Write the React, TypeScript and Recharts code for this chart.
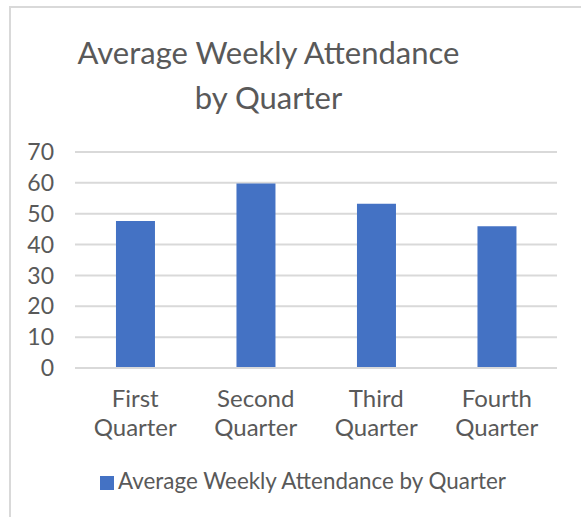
import React from "react";
import { BarChart, Bar, XAxis, YAxis, CartesianGrid, Legend } from "recharts";

const BAR_COLOR = "#4472C4";
const TEXT_COLOR = "#595959";
const GRID_COLOR = "#D9D9D9";
const FONT = "Lato, 'Open Sans', sans-serif";

const quarters: string[] = ["First Quarter", "Second Quarter", "Third Quarter", "Fourth Quarter"];
const attendance: number[] = [47.6, 59.8, 53.2, 45.9];
const yTicks: number[] = [0, 10, 20, 30, 40, 50, 60, 70];
const seriesName = "Average Weekly Attendance by Quarter";
const titleLines: string[] = ["Average Weekly Attendance", "by Quarter"];

const data = quarters.map((name, i) => ({ name, value: attendance[i] }));

const QuarterTick: React.FC<any> = ({ x, y, payload }) => {
  const words = String(payload.value).split(" ");
  return (
    <text
      x={x}
      y={y}
      textAnchor="middle"
      fill={TEXT_COLOR}
      fontSize={24}
      fontFamily={FONT}
    >
      {words.map((w, i) => (
        <tspan key={i} x={x} dy={i === 0 ? 31 : 29}>
          {w}
        </tspan>
      ))}
    </text>
  );
};

const App = () => {
  return (
    <div style={{ position: "absolute", left: 0, top: 0, width: 581, height: 517, background: "#fff", overflow: "hidden" }}>
      <div
        style={{
          position: "absolute",
          left: 9,
          top: 6,
          width: 600,
          height: 600,
          borderTop: `2px solid ${GRID_COLOR}`,
          borderLeft: `2px solid ${GRID_COLOR}`,
        }}
      />
      <div
        style={{
          position: "absolute",
          left: 0,
          width: 537,
          top: 30,
          textAlign: "center",
          fontFamily: FONT,
          fontSize: 31,
          lineHeight: "45px",
          color: TEXT_COLOR,
        }}
      >
        {titleLines.map((t) => (
          <div key={t}>{t}</div>
        ))}
      </div>
      <div style={{ position: "absolute", left: 0, top: 0 }}>
        <BarChart
          width={581}
          height={517}
          data={data}
          margin={{ top: 152, right: 24, left: 0, bottom: 42 }}
          barCategoryGap="34%"
        >
          <CartesianGrid vertical={false} stroke={GRID_COLOR} strokeWidth={2} />
          <XAxis
            dataKey="name"
            axisLine={{ stroke: GRID_COLOR, strokeWidth: 2 }}
            tickLine={false}
            tick={<QuarterTick />}
            interval={0}
            height={80}
          />
          <YAxis
            width={75}
            domain={[0, 70]}
            ticks={yTicks}
            interval={0}
            axisLine={false}
            tickLine={false}
            tickMargin={15}
            tick={{ fill: TEXT_COLOR, fontSize: 23, fontFamily: FONT }}
          />
          <Legend
            verticalAlign="bottom"
            iconType="square"
            iconSize={14}
            wrapperStyle={{ fontFamily: FONT, fontSize: 22.4, left: 100, width: "auto", top: 467 }}
            formatter={(v) => <span style={{ color: TEXT_COLOR }}>{v}</span>}
          />
          <Bar dataKey="value" name={seriesName} fill={BAR_COLOR} isAnimationActive={false} />
        </BarChart>
      </div>
    </div>
  );
};

export default App;
